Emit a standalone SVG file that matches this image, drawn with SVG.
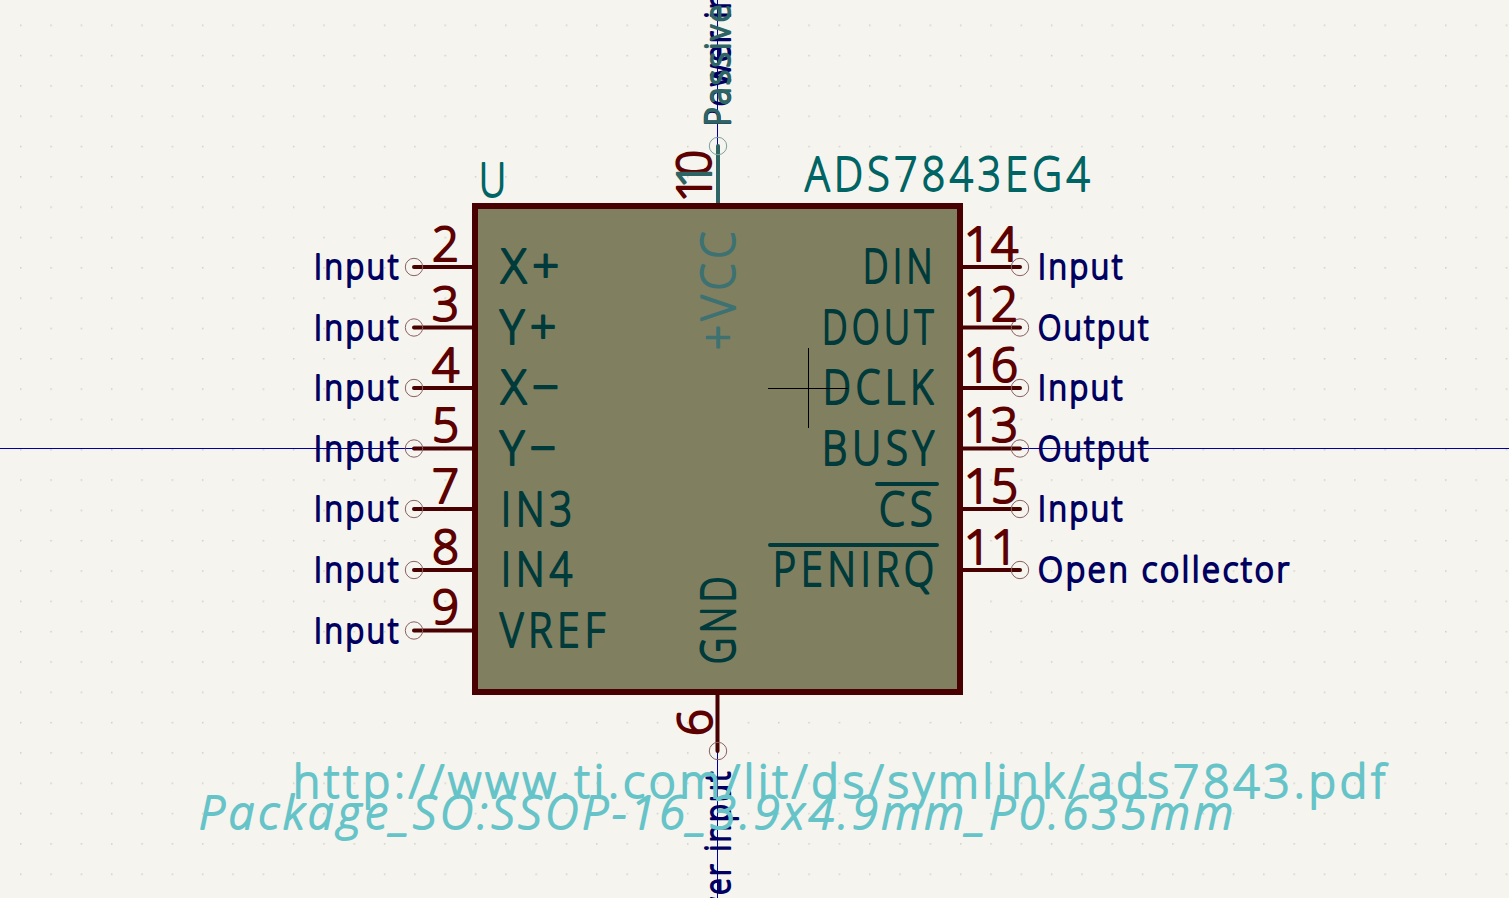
<svg xmlns="http://www.w3.org/2000/svg" width="1509" height="898" viewBox="0 0 1509 898">
<defs>
<style>
text{font-family:"Open Sans","Noto Sans","DejaVu Sans",sans-serif;font-weight:300;stroke-linejoin:round;stroke-linecap:round}
.nm{font-size:47px;fill:#003a3a;stroke:#003a3a;stroke-width:2.2;letter-spacing:6px}
.num{font-size:47px;fill:#5c0000;stroke:#5c0000;stroke-width:2.2}
.lb{font-size:35px;fill:#000060;stroke:#000060;stroke-width:2.1;letter-spacing:3px}
.fld{font-size:47px;fill:#006464;stroke:#006464;stroke-width:1.8;letter-spacing:5px}
.doc{font-size:46px;fill:#66c4c8;stroke:#66c4c8;stroke-width:1.9}
.pin{stroke:#480000;stroke-width:4;fill:none;stroke-linecap:round}
.end{stroke:#8a6060;stroke-width:1;fill:none}
.axis{stroke:#0000a0;stroke-width:1;fill:none}
.bar{stroke:#003a3a;stroke-width:4;stroke-linecap:round}
</style>
<pattern id="grid" x="20" y="24.5" width="30.32" height="30.32" patternUnits="userSpaceOnUse"><rect x="0" y="0" width="1.5" height="1.5" fill="#cfcfca"/></pattern>
</defs>
<rect width="1509" height="898" fill="#f5f4ef"/>
<rect width="1509" height="898" fill="url(#grid)"/>
<g id="connectors">
<path class="axis" d="M0 448.5H415M1020 448.5H1509M717.5 0V146M717.5 751V898"/>
<path class="pin" d="M414 267H475M414 327.5H475M414 388H475M414 448.5H475M414 509H475M414 570H475M414 630.5H475M960 267H1020M960 327.5H1020M960 388H1020M960 448.5H1020M960 509H1020M960 570H1020M717.5 692V751"/>
<path d="M718 146V205" stroke="#2f6464" stroke-width="4" stroke-linecap="round" fill="none"/>
<g class="end"><circle cx="414" cy="267" r="8.7"/><circle cx="414" cy="327.5" r="8.7"/><circle cx="414" cy="388" r="8.7"/><circle cx="414" cy="448.5" r="8.7"/><circle cx="414" cy="509" r="8.7"/><circle cx="414" cy="570" r="8.7"/><circle cx="414" cy="630.5" r="8.7"/><circle cx="1020" cy="267" r="8.7"/><circle cx="1020" cy="327.5" r="8.7"/><circle cx="1020" cy="388" r="8.7"/><circle cx="1020" cy="448.5" r="8.7"/><circle cx="1020" cy="509" r="8.7"/><circle cx="1020" cy="570" r="8.7"/><circle cx="718" cy="751" r="8.7"/></g>
<circle cx="718" cy="146" r="8.7" fill="none" stroke="#7ba0a0" stroke-width="1"/>
</g>
<g id="body">
<rect x="475" y="206" width="485" height="486" fill="#808060" stroke="#480000" stroke-width="6"/>
</g>
<g id="names">
<text class="nm" x="501" y="283" textLength="64" lengthAdjust="spacingAndGlyphs">X+</text>
<text class="nm" x="500" y="344" textLength="62" lengthAdjust="spacingAndGlyphs">Y+</text>
<text class="nm" x="501" y="404" textLength="64" lengthAdjust="spacingAndGlyphs">X−</text>
<text class="nm" x="500" y="465" textLength="62" lengthAdjust="spacingAndGlyphs">Y−</text>
<text class="nm" x="501" y="526" textLength="76" lengthAdjust="spacingAndGlyphs">IN3</text>
<text class="nm" x="501" y="586" textLength="76" lengthAdjust="spacingAndGlyphs">IN4</text>
<text class="nm" x="500" y="647" textLength="110" lengthAdjust="spacingAndGlyphs">VREF</text>
<text class="nm" x="863" y="283" textLength="74" lengthAdjust="spacingAndGlyphs">DIN</text>
<text class="nm" x="822" y="344" textLength="116" lengthAdjust="spacingAndGlyphs">DOUT</text>
<text class="nm" x="823" y="404" textLength="115" lengthAdjust="spacingAndGlyphs">DCLK</text>
<text class="nm" x="822" y="465" textLength="117" lengthAdjust="spacingAndGlyphs">BUSY</text>
<text class="nm" x="879" y="526" textLength="59" lengthAdjust="spacingAndGlyphs">CS</text>
<text class="nm" x="773" y="586" textLength="166" lengthAdjust="spacingAndGlyphs">PENIRQ</text>
<path class="bar" d="M877 484H937M770 545H937"/>
<text class="nm" transform="translate(735 664) rotate(-90)" textLength="92" lengthAdjust="spacingAndGlyphs">GND</text>
<text class="fld" style="fill:#3e7272;stroke:#3e7272" transform="translate(735 350) rotate(-90)" textLength="123" lengthAdjust="spacingAndGlyphs">+VCC</text>
</g>
<g id="numbers">
<text class="num" x="432" y="261" textLength="27" lengthAdjust="spacingAndGlyphs">2</text>
<text class="num" x="432" y="321" textLength="27" lengthAdjust="spacingAndGlyphs">3</text>
<text class="num" x="432" y="382" textLength="27" lengthAdjust="spacingAndGlyphs">4</text>
<text class="num" x="432" y="442" textLength="27" lengthAdjust="spacingAndGlyphs">5</text>
<text class="num" x="432" y="503" textLength="27" lengthAdjust="spacingAndGlyphs">7</text>
<text class="num" x="432" y="564" textLength="27" lengthAdjust="spacingAndGlyphs">8</text>
<text class="num" x="432" y="624" textLength="27" lengthAdjust="spacingAndGlyphs">9</text>
<text class="num" x="964" y="261" textLength="54" lengthAdjust="spacingAndGlyphs">14</text>
<text class="num" x="964" y="321" textLength="54" lengthAdjust="spacingAndGlyphs">12</text>
<text class="num" x="964" y="382" textLength="54" lengthAdjust="spacingAndGlyphs">16</text>
<text class="num" x="964" y="442" textLength="54" lengthAdjust="spacingAndGlyphs">13</text>
<text class="num" x="964" y="503" textLength="54" lengthAdjust="spacingAndGlyphs">15</text>
<text class="num" x="964" y="564" textLength="54" lengthAdjust="spacingAndGlyphs">11</text>
<text class="num" transform="translate(712 736) rotate(-90)" textLength="27" lengthAdjust="spacingAndGlyphs">6</text>
<text class="num" transform="translate(711 202) rotate(-90)" textLength="52" lengthAdjust="spacingAndGlyphs">10</text>
<text class="num" style="fill:#2f6464;stroke:#2f6464" transform="translate(711 188) rotate(-90)" textLength="26" lengthAdjust="spacingAndGlyphs">1</text>
</g>
<g id="labels">
<text class="lb" x="314" y="279" textLength="87" lengthAdjust="spacingAndGlyphs">Input</text>
<text class="lb" x="314" y="340" textLength="87" lengthAdjust="spacingAndGlyphs">Input</text>
<text class="lb" x="314" y="400" textLength="87" lengthAdjust="spacingAndGlyphs">Input</text>
<text class="lb" x="314" y="461" textLength="87" lengthAdjust="spacingAndGlyphs">Input</text>
<text class="lb" x="314" y="521" textLength="87" lengthAdjust="spacingAndGlyphs">Input</text>
<text class="lb" x="314" y="582" textLength="87" lengthAdjust="spacingAndGlyphs">Input</text>
<text class="lb" x="314" y="643" textLength="87" lengthAdjust="spacingAndGlyphs">Input</text>
<text class="lb" x="1038" y="279" textLength="87" lengthAdjust="spacingAndGlyphs">Input</text>
<text class="lb" x="1038" y="340" textLength="113" lengthAdjust="spacingAndGlyphs">Output</text>
<text class="lb" x="1038" y="400" textLength="87" lengthAdjust="spacingAndGlyphs">Input</text>
<text class="lb" x="1038" y="461" textLength="113" lengthAdjust="spacingAndGlyphs">Output</text>
<text class="lb" x="1038" y="521" textLength="87" lengthAdjust="spacingAndGlyphs">Input</text>
<text class="lb" x="1038" y="582" textLength="254" lengthAdjust="spacingAndGlyphs">Open collector</text>
<text class="lb" transform="translate(730 126) rotate(-90)" textLength="190" lengthAdjust="spacingAndGlyphs">Power input</text>
<text class="lb" style="fill:#2f6464;stroke:#2f6464" transform="translate(730 126) rotate(-90)" textLength="124" lengthAdjust="spacingAndGlyphs">Passive</text>
<text class="lb" transform="translate(730 959) rotate(-90)" textLength="190" lengthAdjust="spacingAndGlyphs">Power input</text>
</g>
<g id="fields">
<text class="fld" x="479" y="197" textLength="31" lengthAdjust="spacingAndGlyphs">U</text>
<text class="fld" x="805" y="191" textLength="289" lengthAdjust="spacingAndGlyphs">ADS7843EG4</text>
<text class="doc" x="293" y="798" textLength="1092">http://www.ti.com/lit/ds/symlink/ads7843.pdf</text>
<text class="doc" x="199" y="829" font-style="italic" textLength="1034">Package_SO:SSOP-16_3.9x4.9mm_P0.635mm</text>
</g>
<g id="crosshair"><path d="M768 388.5H848M808.5 348V428" stroke="#000" stroke-width="1" fill="none"/></g>
</svg>
